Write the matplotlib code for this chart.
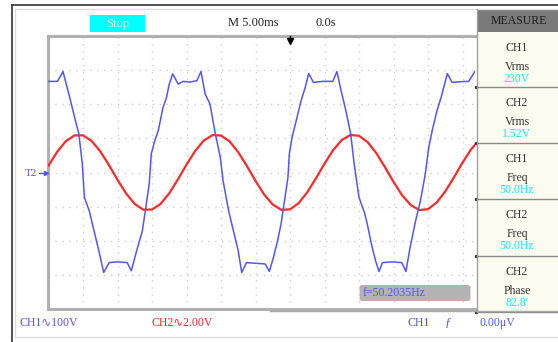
import matplotlib
matplotlib.use("Agg")
import matplotlib.pyplot as plt
from matplotlib.patches import Rectangle, FancyBboxPatch

# ---------------- data ----------------
# CH1 trace: time (ms, 0 = trigger) and voltage (V)
ch1_t = [-35.1, -33.7, -32.9, -32.3, -31.8, -31.1, -30.6, -30.1, -29.8, -29.1,
         -28.4, -27.7, -27.0, -26.2, -25.0, -23.6, -23.0, -22.1, -21.4, -20.9,
         -20.4, -20.1, -19.6, -19.1, -18.4, -17.9, -17.5, -17.0, -16.2, -15.5,
         -14.5, -13.5, -12.9, -12.3, -11.6, -10.9, -10.1, -9.7, -8.9, -8.2,
         -7.5, -7.0, -6.3, -5.0, -3.6, -3.0, -2.4, -1.8, -1.3, -0.8,
         -0.3, -0.1, 0.3, 0.9, 1.6, 2.2, 2.7, 3.4, 4.7, 6.2,
         6.8, 7.4, 8.1, 8.8, 9.3, 10.0, 10.8, 11.2, 11.8, 12.4,
         12.9, 13.4, 14.8, 16.2, 16.8, 17.4, 18.2, 18.9, 19.6, 20.1,
         20.6, 21.3, 21.9, 22.8, 23.5, 24.6, 25.9, 26.8]
ch1_v = [267, 267, 296, 249, 210, 152, 113, 25, -73, -112,
         -171, -230, -293, -264, -262, -264, -288, -220, -171, -103,
         -33, 55, 93, 122, 191, 220, 259, 289, 259, 267,
         265, 269, 296, 230, 201, 122, 44, -24, -112, -171,
         -230, -293, -264, -266, -268, -290, -249, -200, -151, -83,
         -15, 54, 103, 152, 210, 249, 290, 264, 267, 267,
         296, 240, 181, 113, 25, -73, -118, -151, -210, -259,
         -290, -264, -262, -264, -290, -220, -142, -83, -5, 73,
         122, 181, 220, 290, 264, 266, 267, 296]

# CH2 trace: time (ms) and voltage (V)
ch2_t = [-35.0, -33.75, -32.5, -31.25, -30.0, -28.75, -27.5, -26.25, -25.0, -23.75,
         -22.5, -21.25, -20.0, -18.75, -17.5, -16.25, -15.0, -13.75, -12.5, -11.25,
         -10.0, -8.75, -7.5, -6.25, -5.0, -3.75, -2.5, -1.25, 0.0, 1.25,
         2.5, 3.75, 5.0, 6.25, 7.5, 8.75, 10.0, 11.25, 12.5, 13.75,
         15.0, 16.25, 17.5, 18.75, 20.0, 21.25, 22.5, 23.75, 25.0, 26.25, 27.5]
ch2_v = [0.40, 1.21, 1.83, 2.17, 2.18, 1.85, 1.24, 0.44, -0.43, -1.23,
         -1.85, -2.18, -2.17, -1.84, -1.22, -0.41, 0.46, 1.26, 1.87, 2.19,
         2.17, 1.82, 1.19, 0.38, -0.49, -1.29, -1.88, -2.19, -2.16, -1.80,
         -1.16, -0.35, 0.52, 1.31, 1.90, 2.20, 2.15, 1.78, 1.14, 0.32,
         -0.55, -1.34, -1.91, -2.20, -2.15, -1.76, -1.11, -0.29, 0.58, 1.36, 1.93]

ch1_scale = 100.0   # V/div
ch2_scale = 2.0     # V/div
time_div = 5.0      # ms/div

measure_items = [("CH1", "Vrms", "230V"),
                 ("CH2", "Vrms", "1.52V"),
                 ("CH1", "Freq", "50.0Hz"),
                 ("CH2", "Freq", "50.0Hz"),
                 ("CH2", "Phase", "82.8'")]

top_labels = ["Stop", "M 5.00ms", "0.0s"]
bottom_labels = ["CH1\u223f100V", "CH2\u223f2.00V", "CH1", "\u0192", "0.00\u03bcV"]
freq_label = "f=50.2035Hz"

# ---------------- figure ----------------
W, H = 558, 342
SERIF = ["Liberation Serif", "DejaVu Sans"]
BLUE = "#5555ff"
RED = "#ff2a2a"
CYAN = "#1ee6ff"

fig = plt.figure(figsize=(W / 100, H / 100), dpi=100)
fig.patch.set_facecolor("white")

# plot area in pixels
L, R, T, B = 48, 475, 36, 309
ax = fig.add_axes([L / W, 1 - B / H, (R - L) / W, (B - T) / H])
ax.set_facecolor("white")
x_left = -(290 - L) / 34.5 * time_div
x_right = (R - 290) / 34.5 * time_div
ax.set_xlim(x_left, x_right)
ax.set_ylim(-4, 4)
ax.set_xticks([-35 + 5 * k for k in range(13)])
ax.set_yticks(list(range(-4, 5)))
ax.tick_params(length=0, labelbottom=False, labelleft=False)
ax.grid(True, color="#cdcdcd", linestyle=(0, (1, 4)), linewidth=1.0)
ax.set_axisbelow(True)
for side, sp in ax.spines.items():
    sp.set_color("#b0b0b0")
    sp.set_linewidth(2.2)
ax.spines["right"].set_visible(False)

ax.plot(ch2_t, [v / ch2_scale for v in ch2_v], color=RED, lw=1.6, zorder=3)
ax.plot(ch1_t, [v / ch1_scale for v in ch1_v], color=BLUE, lw=1.1, zorder=4)

# overlay in pixel coordinates
ov = fig.add_axes([0, 0, 1, 1], zorder=5)
ov.set_xlim(0, W)
ov.set_ylim(H, 0)
ov.axis("off")
ov.patch.set_alpha(0)

# outer frame
ov.plot([12, W], [5, 5], color="#333333", lw=1.2)
ov.plot([12, 12], [5, H], color="#333333", lw=1.2)
ov.plot([15, W], [9, 9], color="#dddddd", lw=1.0)
ov.plot([15, 15], [9, 337], color="#dddddd", lw=1.0)
ov.plot([15, W], [337, 337], color="#dddddd", lw=1.0)

# top bar
ov.add_patch(Rectangle((90, 15), 55, 17, facecolor="#00ffff", edgecolor="none"))
ov.text(117.5, 23.5, top_labels[0], color="#e8ffff", fontsize=9, family=SERIF,
        ha="center", va="center")
ov.text(228, 23.5, top_labels[1], color="#222222", fontsize=9, family=SERIF,
        ha="left", va="center")
ov.text(315, 23.5, top_labels[2], color="#222222", fontsize=9, family=SERIF,
        ha="left", va="center")
# trigger marker
ov.plot([290], [41], marker="v", color="black", markersize=4.5)
ov.plot([290, 290], [36, 40], color="black", lw=1)

# T2 marker
ov.text(31, 173, "T2", color=BLUE, fontsize=8, family=SERIF, ha="center", va="center")
ov.plot([39, 45], [173, 173], color=BLUE, lw=1)
ov.plot([45.5], [173], marker=">", color=BLUE, markersize=3)

# measure panel
PX0 = 477
ov.add_patch(Rectangle((PX0, 9), W - PX0, 23, facecolor="#7a7a7a", edgecolor="none"))
ov.text(519, 21, "MEASURE", color="#1a1a1a", fontsize=8.5, family=SERIF,
        ha="center", va="center")
seps = [32, 87, 143, 199, 256, 312]
for i, (a, b, c) in enumerate(measure_items):
    y0, y1 = seps[i], seps[i + 1]
    ov.add_patch(Rectangle((PX0, y0), W - PX0, y1 - y0, facecolor="#fbfbf0",
                           edgecolor="none"))
    ov.text(517, y0 + 16, a, color="#333333", fontsize=8.5, family=SERIF,
            ha="center", va="center")
    ov.text(517, y0 + 35, b, color="#333333", fontsize=8.5, family=SERIF,
            ha="center", va="center")
    ov.text(517, y0 + 47, c, color=CYAN, fontsize=8.5, family=SERIF,
            ha="center", va="center")
for y in seps[1:]:
    ov.plot([PX0, W], [y, y], color="#8a8a8a", lw=1.0)
    ov.plot([PX0 - 1], [y], marker="o", color="#333333", markersize=1.5)
ov.plot([PX0, PX0], [9, 312], color="#a0a0a0", lw=1.0)
ov.plot([270, W], [311, 311], color="#a8a8a8", lw=1.0)

# frequency counter box
ov.add_patch(FancyBboxPatch((360, 285.5), 110, 15, boxstyle="round,pad=0,rounding_size=2",
                            facecolor="#b3b3b3", edgecolor="#c8a0a0", lw=0.6))
ov.text(363, 293.5, freq_label, color=BLUE, fontsize=8.5, family=SERIF,
        ha="left", va="center")

# bottom status line
ov.text(20, 323, bottom_labels[0], color=BLUE, fontsize=8.5, family=SERIF,
        ha="left", va="center")
ov.text(151, 323, bottom_labels[1], color=RED, fontsize=8.5, family=SERIF,
        ha="left", va="center")
ov.text(408, 323, bottom_labels[2], color=BLUE, fontsize=8.5, family=SERIF,
        ha="left", va="center")
ov.text(448, 323, bottom_labels[3], color=BLUE, fontsize=9, family=SERIF,
        ha="center", va="center", style="italic")
ov.text(480, 323, bottom_labels[4], color=BLUE, fontsize=8.5, family=SERIF,
        ha="left", va="center")

fig.savefig("out.png", dpi=100, facecolor="white")
